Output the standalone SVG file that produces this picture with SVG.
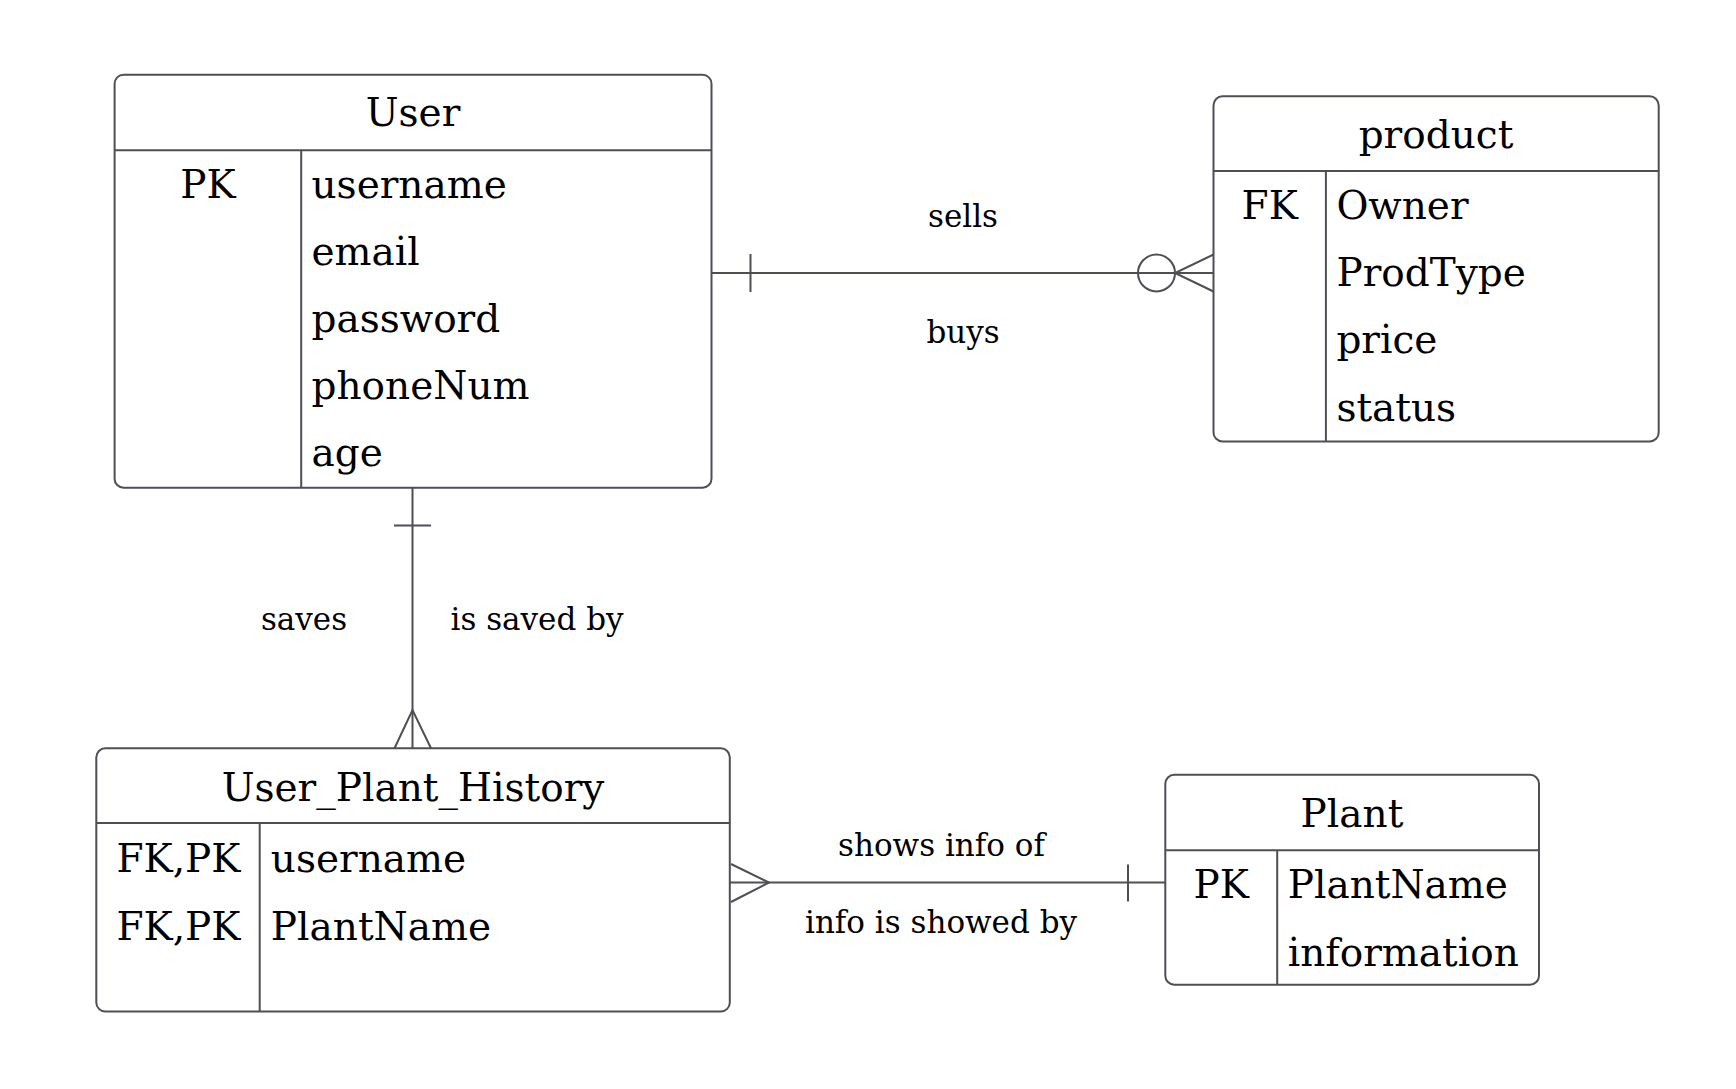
<svg xmlns="http://www.w3.org/2000/svg" width="1736" height="1089" viewBox="0 0 1736 1089">
<style>
.box{fill:#fff;stroke:#4d4f55;stroke-width:2}
.ln{fill:none;stroke:#4d4f55;stroke-width:2}
.t{font-family:"DejaVu Serif","Liberation Serif",serif;font-size:39px;fill:#000}
.c{text-anchor:middle}
.lb{font-family:"DejaVu Serif","Liberation Serif",serif;font-size:31px;fill:#000;text-anchor:middle}
</style>
<rect width="1736" height="1089" fill="#fff"/>
<g id="connectors">
  <!-- User - product -->
  <line class="ln" x1="711.5" y1="273" x2="1213.5" y2="273"/>
  <line class="ln" x1="750.5" y1="254" x2="750.5" y2="292"/>
  <circle class="ln" cx="1156.5" cy="273" r="18.5" fill="#fff"/>
  <polyline class="ln" points="1213.5,254.5 1175,273 1213.5,291.5"/>
  <!-- User - UPH -->
  <line class="ln" x1="412.5" y1="487.7" x2="412.5" y2="748.3"/>
  <line class="ln" x1="394" y1="525.5" x2="431" y2="525.5"/>
  <polyline class="ln" points="394.5,748.3 412.5,710 431,748.3"/>
  <!-- UPH - Plant -->
  <line class="ln" x1="729.8" y1="882.5" x2="1165.3" y2="882.5"/>
  <line class="ln" x1="1128" y1="864.5" x2="1128" y2="901.5"/>
  <polyline class="ln" points="731,864 769,882.5 731,902"/>
  <text class="lb" x="963" y="226.5">sells</text>
  <text class="lb" x="963" y="342.5">buys</text>
  <text class="lb" x="304" y="630">saves</text>
  <text class="lb" x="537" y="630">is saved by</text>
  <text class="lb" x="941.5" y="856">shows info of</text>
  <text class="lb" x="941" y="932.5">info is showed by</text>
</g>
<g id="User">
  <rect class="box" x="114.6" y="74.7" width="596.9" height="413" rx="9"/>
  <line class="ln" x1="114.6" y1="150.2" x2="711.5" y2="150.2"/>
  <line class="ln" x1="301.2" y1="150.2" x2="301.2" y2="487.7"/>
  <text class="t c" x="413" y="126">User</text>
  <text class="t c" x="208" y="198">PK</text>
  <text class="t" x="311.5" y="198">username</text>
  <text class="t" x="311.5" y="265">email</text>
  <text class="t" x="311.5" y="332">password</text>
  <text class="t" x="311.5" y="399">phoneNum</text>
  <text class="t" x="311.5" y="466">age</text>
</g>
<g id="product">
  <rect class="box" x="1213.5" y="96.3" width="445.2" height="345.1" rx="9"/>
  <line class="ln" x1="1213.5" y1="171" x2="1658.7" y2="171"/>
  <line class="ln" x1="1325.9" y1="171" x2="1325.9" y2="441.4"/>
  <text class="t c" x="1436" y="147.7">product</text>
  <text class="t c" x="1269.7" y="219">FK</text>
  <text class="t" x="1336.4" y="219">Owner</text>
  <text class="t" x="1336.4" y="286">ProdType</text>
  <text class="t" x="1336.4" y="353">price</text>
  <text class="t" x="1336.4" y="420.5">status</text>
</g>
<g id="User_Plant_History">
  <rect class="box" x="96.3" y="748.3" width="633.5" height="263.2" rx="9"/>
  <line class="ln" x1="96.3" y1="823" x2="729.8" y2="823"/>
  <line class="ln" x1="259.7" y1="823" x2="259.7" y2="1011.5"/>
  <text class="t c" x="413" y="800.5">User_Plant_History</text>
  <text class="t c" x="178.5" y="872">FK,PK</text>
  <text class="t" x="270.8" y="872">username</text>
  <text class="t c" x="178.5" y="939.5">FK,PK</text>
  <text class="t" x="270.8" y="939.5">PlantName</text>
</g>
<g id="Plant">
  <rect class="box" x="1165.3" y="774.8" width="373.7" height="209.9" rx="9"/>
  <line class="ln" x1="1165.3" y1="850.2" x2="1539" y2="850.2"/>
  <line class="ln" x1="1277.2" y1="850.2" x2="1277.2" y2="984.7"/>
  <text class="t c" x="1352" y="826.5">Plant</text>
  <text class="t c" x="1221.3" y="898">PK</text>
  <text class="t" x="1287.7" y="898">PlantName</text>
  <text class="t" x="1287.7" y="965.5">information</text>
</g>
</svg>
